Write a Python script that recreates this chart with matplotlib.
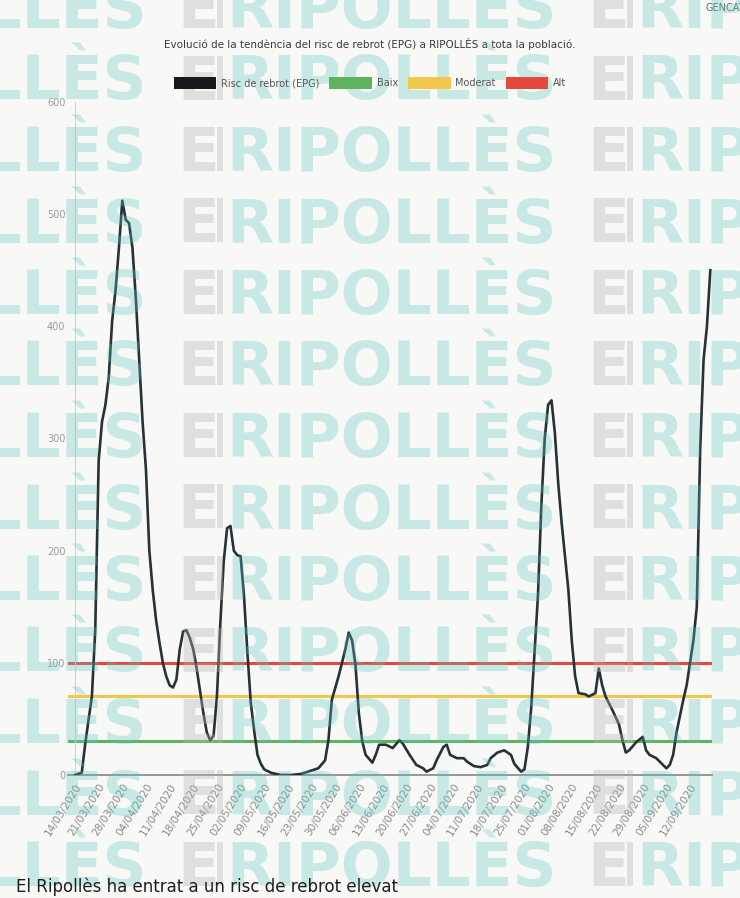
"""EPG rebound-risk trend for Ripollès, with the newspaper watermark overlay."""

import matplotlib

matplotlib.use("Agg")
import matplotlib.pyplot as plt  # noqa: E402
from matplotlib.patches import Patch  # noqa: E402

BG = "#f8f8f6"
INK = "#263238"
MUTED = "#9a9a9a"
TEAL = "#5cc3c3"
WM_GRAY = "#b4b4b4"

# days since the first date on the axis, and the EPG value on that day
days = [0, 2, 3, 4, 5, 6, 7, 8, 9, 10, 11, 12, 13, 14, 15, 16, 17, 18, 19, 20,
        21, 22, 23, 24, 25, 26, 27, 28, 29, 30, 31, 32, 33, 34, 35, 36, 37, 38,
        39, 40, 41, 42, 43, 44, 45, 46, 47, 48, 49, 50, 51, 52, 53, 54, 55, 56,
        58, 61, 64, 67, 70, 72, 74, 75, 76, 78, 80, 81, 82, 83, 84, 85, 86, 88,
        89, 90, 92, 94, 96, 97, 99, 101, 103, 104, 106, 107, 109, 110, 111, 113,
        115, 116, 118, 120, 122, 123, 125, 127, 129, 130, 132, 133, 134, 135,
        136, 137, 138, 139, 140, 141, 142, 143, 144, 145, 146, 147, 148, 149,
        151, 152, 154, 155, 156, 157, 159, 161, 162, 163, 164, 166, 168, 169,
        170, 172, 174, 175, 176, 177, 178, 180, 181, 182, 183, 184, 185, 186,
        187, 188]
epg = [0, 2, 27, 49, 70, 130, 280, 315, 330, 355, 405, 432, 470, 512, 495, 492,
       470, 425, 370, 315, 272, 200, 165, 138, 118, 100, 88, 80, 78, 85, 112,
       128, 129, 122, 112, 95, 75, 55, 38, 31, 35, 70, 135, 190, 220, 222, 200,
       196, 195, 160, 110, 65, 40, 18, 10, 5, 2, 0, 0, 1, 4, 6, 13, 31, 67, 88,
       112, 127, 120, 98, 55, 30, 18, 11, 18, 27, 27, 24, 31, 28, 18, 9, 6, 3,
       6, 13, 25, 27, 18, 15, 15, 12, 8, 7, 9, 15, 20, 22, 18, 10, 3, 5, 25,
       60, 110, 160, 240, 300, 330, 334, 305, 260, 225, 195, 165, 120, 88, 73,
       72, 70, 73, 95, 80, 70, 58, 45, 31, 20, 22, 29, 34, 22, 18, 15, 9, 6, 9,
       18, 38, 67, 80, 100, 120, 150, 290, 370, 400, 450]

date_labels = ["14/03/2020", "21/03/2020", "28/03/2020", "04/04/2020",
               "11/04/2020", "18/04/2020", "25/04/2020", "02/05/2020",
               "09/05/2020", "16/05/2020", "23/05/2020", "30/05/2020",
               "06/06/2020", "13/06/2020", "20/06/2020", "27/06/2020",
               "04/07/2020", "11/07/2020", "18/07/2020", "25/07/2020",
               "01/08/2020", "08/08/2020", "15/08/2020", "22/08/2020",
               "29/08/2020", "05/09/2020", "12/09/2020"]
label_days = [7 * i for i in range(len(date_labels))]

levels = [("Baix", 30, "#5fb35f"), ("Moderat", 70, "#f3c84a"), ("Alt", 100, "#e5483c")]
y_ticks = [0, 100, 200, 300, 400, 500, 600]

W, H = 740, 898
fig = plt.figure(figsize=(W / 100, H / 100), dpi=100, facecolor=BG)
ax = fig.add_axes([68 / W, 1 - 775 / H, 644 / W, 673 / H], facecolor=BG)

for name, value, color in levels:
    ax.axhline(value, color=color, linewidth=2.2, zorder=2)
ax.plot(days, epg, color=INK, linewidth=1.9, solid_joinstyle="round", zorder=3)

ax.set_xlim(-2.07, 188.5)
ax.set_ylim(0, 600)
ax.set_yticks(y_ticks)
ax.set_yticklabels([str(v) for v in y_ticks])
ax.set_xticks(label_days)
ax.set_xticklabels(date_labels, rotation=58, ha="right", rotation_mode="anchor")
ax.tick_params(axis="y", length=0, pad=7, labelsize=7, labelcolor=MUTED)
ax.tick_params(axis="x", length=0, pad=5, labelsize=7.5, labelcolor="#8a8a8a")
for side in ("top", "right"):
    ax.spines[side].set_visible(False)
ax.spines["left"].set_position(("data", 0))
ax.spines["left"].set_color("#d2d2d2")
ax.spines["bottom"].set_color("#8e8e8e")
ax.spines["bottom"].set_linewidth(1.3)

fig.text(0.5, 1 - 44 / H,
         "Evolució de la tendència del risc de rebrot (EPG) a RIPOLLÈS a tota la població.",
         ha="center", va="center", fontsize=7.5, color="#3a3a3a")

handles = [Patch(facecolor="#15191c", label="Risc de rebrot (EPG)")]
handles += [Patch(facecolor=c, label=n) for n, _, c in levels]
fig.legend(handles=handles, loc="center", bbox_to_anchor=(370 / W, 1 - 83 / H),
           ncol=4, frameon=False, fontsize=7, handlelength=4.4, handleheight=1.4,
           handletextpad=0.5, columnspacing=1.0, labelcolor="#555555")

fig.text(706 / W, 1 - 8 / H, "GENCAT", fontsize=7, color="#666666", va="center")
fig.text(16 / W, 1 - 892 / H, "El Ripollès ha entrat a un risc de rebrot elevat",
         fontsize=12, color="#1e1e1e", va="baseline", zorder=6,
         family=["Liberation Sans Narrow", "DejaVu Sans"])

# watermark rows laid over the whole picture
for k in range(13):
    base = 1 - (6 + 71.5 * k + 22) / H
    for off in (-410, 0, 410):
        fig.text((177 + off) / W, base, "E", fontsize=44, fontweight="bold",
                 family="DejaVu Sans", color=WM_GRAY, alpha=0.36, va="baseline")
        fig.text((211 + off) / W, base, "I", fontsize=44, family="DejaVu Sans",
                 color=WM_GRAY, alpha=0.36, va="baseline")
        fig.text((226 + off) / W, base, "RIPOLLÈS", fontsize=44, fontweight="bold",
                 family="DejaVu Sans", color=TEAL, alpha=0.3, va="baseline")

fig.savefig("out.png", dpi=100, facecolor=BG)
